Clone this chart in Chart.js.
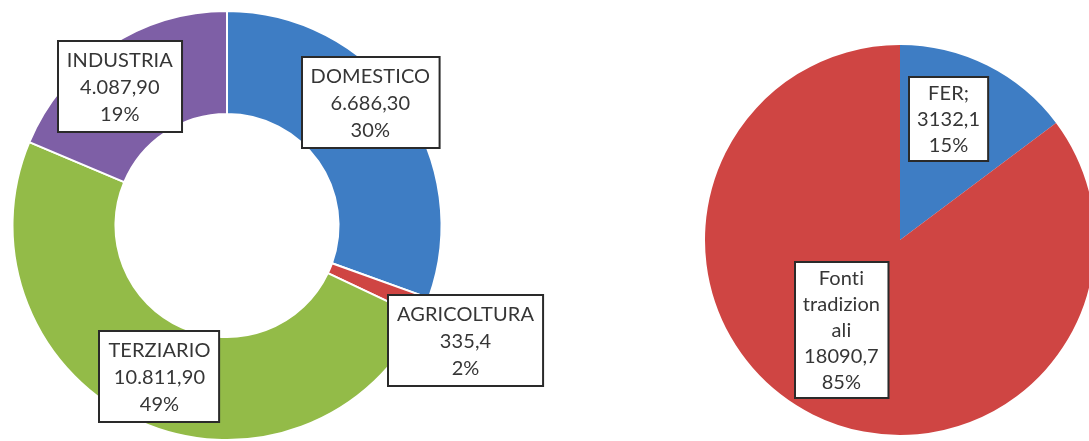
<!DOCTYPE html>
<html>
<head>
<meta charset="utf-8">
<script src="https://cdn.jsdelivr.net/npm/chart.js@4/dist/chart.umd.min.js"></script>
<style>
  html, body { margin: 0; padding: 0; background: #ffffff; overflow: hidden; }
  body { width: 1089px; height: 441px; position: relative; }
  canvas { position: absolute; top: 0; }
  #consumi { left: 0; }
  #fonti { left: 680px; }
</style>
</head>
<body>
<canvas id="consumi" width="1089" height="441"></canvas>
<canvas id="fonti" width="430" height="441"></canvas>
<script>
// Consumi per settore
const settori = ['DOMESTICO', 'AGRICOLTURA', 'TERZIARIO', 'INDUSTRIA'];
const consumiSettore = [6686.30, 335.4, 10811.90, 4087.90];
const etichetteConsumi = ['6.686,30', '335,4', '10.811,90', '4.087,90'];
const percentualiSettore = ['30%', '2%', '49%', '19%'];
const coloriSettori = ['#3E7DC4', '#CF4543', '#93BB48', '#7E5FA6'];

// Fonti energetiche
const fonti = ['FER;', 'Fonti tradizionali'];
const consumiFonte = [3132.1, 18090.7];
const etichetteFonti = ['3132,1', '18090,7'];
const percentualiFonte = ['15%', '85%'];
const coloriFonti = ['#3E7DC4', '#CF4543'];

const FONT = '20px Lato, "Open Sans", sans-serif';

// Splits a string into lines no wider than maxWidth, breaking words by characters if needed
function wrapText(ctx, text, maxWidth) {
  const out = [];
  text.split(' ').forEach(word => {
    let cur = '';
    for (const ch of word) {
      if (cur && ctx.measureText(cur + ch).width > maxWidth) {
        out.push(cur);
        cur = ch;
      } else {
        cur += ch;
      }
    }
    if (cur) out.push(cur);
  });
  return out;
}

// Boxed data labels: category, value and percentage, anchored on each arc's centre point
const boxedLabels = {
  id: 'boxedLabels',
  afterDatasetsDraw(chart, args, opts) {
    const ctx = chart.ctx;
    const meta = chart.getDatasetMeta(0);
    ctx.save();
    ctx.font = FONT;
    if ('letterSpacing' in ctx) ctx.letterSpacing = '0.1px';
    ctx.textAlign = 'center';
    ctx.textBaseline = 'middle';
    meta.data.forEach((arc, i) => {
      const c = arc.getCenterPoint();
      const off = opts.offsets[i] || [0, 0];
      const cx = c.x + off[0];
      const cy = c.y + off[1];
      const lines = wrapText(ctx, chart.data.labels[i], opts.wrapWidth)
        .concat([opts.valueTexts[i], opts.percentTexts[i]]);
      const w = Math.max(...lines.map(l => ctx.measureText(l).width)) + opts.padX * 2;
      const h = lines.length * opts.lineHeight + opts.padY * 2;
      const x = Math.round(cx - w / 2);
      const y = Math.round(cy - h / 2);
      ctx.fillStyle = '#ffffff';
      ctx.fillRect(x, y, w, h);
      ctx.lineWidth = 2;
      ctx.strokeStyle = '#2a2a2a';
      ctx.strokeRect(x, y, w, h);
      ctx.fillStyle = '#363636';
      lines.forEach((l, k) => {
        ctx.fillText(l, cx, y + opts.padY + opts.lineHeight * (k + 0.5) + 1);
      });
    });
    ctx.restore();
  }
};

new Chart(document.getElementById('consumi'), {
  type: 'doughnut',
  data: {
    labels: settori,
    datasets: [{
      data: consumiSettore,
      backgroundColor: coloriSettori,
      borderColor: '#ffffff',
      borderWidth: 2
    }]
  },
  options: {
    responsive: false,
    animation: false,
    cutout: '52%',
    layout: { padding: { left: 11, top: 10, right: 646, bottom: 0 } },
    plugins: {
      legend: { display: false },
      tooltip: { enabled: false },
      boxedLabels: {
        valueTexts: etichetteConsumi,
        percentTexts: percentualiSettore,
        offsets: [[10, -29], [88, 52], [-1, 2], [-17, -3]],
        wrapWidth: 200,
        lineHeight: 27,
        padX: 9,
        padY: 5
      }
    }
  },
  plugins: [boxedLabels]
});

new Chart(document.getElementById('fonti'), {
  type: 'pie',
  data: {
    labels: fonti,
    datasets: [{
      data: consumiFonte,
      backgroundColor: coloriFonti,
      borderWidth: 0
    }]
  },
  options: {
    responsive: false,
    animation: false,
    layout: { padding: { left: 25, top: 45, right: 15, bottom: 6 } },
    plugins: {
      legend: { display: false },
      tooltip: { enabled: false },
      boxedLabels: {
        valueTexts: etichetteFonti,
        percentTexts: percentualiFonte,
        offsets: [[5, -34], [-15, 3]],
        wrapWidth: 80,
        lineHeight: 26,
        padX: 8,
        padY: 3
      }
    }
  },
  plugins: [boxedLabels]
});
</script>
</body>
</html>
